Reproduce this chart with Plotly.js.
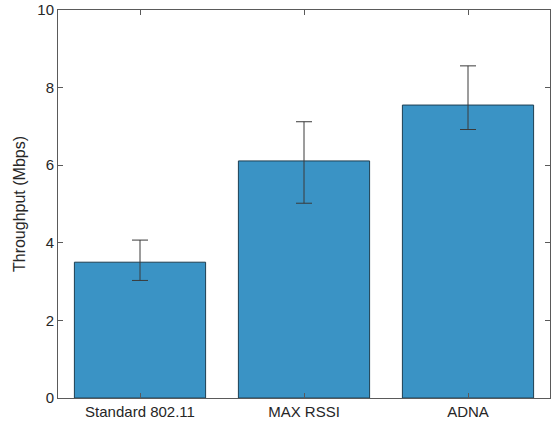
<!DOCTYPE html>
<html>
<head>
<meta charset="utf-8">
<script src="https://cdn.plot.ly/plotly-3.0.1.min.js"></script>
<style>html,body{margin:0;padding:0;background:#fff;}#chart{width:554px;height:424px;}</style>
</head>
<body>
<div id="chart"></div>
<script>
const categories = ["Standard 802.11", "MAX RSSI", "ADNA"];
const throughput = [3.50, 6.11, 7.55];
const errPlus = [0.57, 1.01, 1.01];
const errMinus = [0.47, 1.09, 0.63];
const yTicks = [0, 2, 4, 6, 8, 10];

const trace = {
  type: "bar",
  x: categories,
  y: throughput,
  width: 0.8,
  marker: {color: "#3a93c5", line: {color: "#1d3f52", width: 1}},
  error_y: {type: "data", symmetric: false, array: errPlus, arrayminus: errMinus,
            color: "#3a3a3a", thickness: 1, width: 8},
  hoverinfo: "none"
};

const fontFam = "Liberation Sans, Arial, sans-serif";
const layout = {
  width: 554, height: 424,
  margin: {l: 58, r: 4, t: 10, b: 26},
  paper_bgcolor: "#fff", plot_bgcolor: "#fff",
  showlegend: false,
  font: {family: fontFam, size: 15, color: "#262626"},
  xaxis: {
    type: "category", range: [-0.5, 2.5],
    showline: true, linecolor: "#5a5a5a", linewidth: 1, mirror: "ticks",
    ticks: "inside", ticklen: 5, tickcolor: "#5a5a5a",
    showgrid: false, zeroline: false, fixedrange: true,
    tickfont: {family: fontFam, size: 15, color: "#262626"}
  },
  yaxis: {
    range: [0, 10], tickvals: yTicks, ticktext: yTicks.map(String),
    showline: true, linecolor: "#5a5a5a", linewidth: 1, mirror: "ticks",
    ticks: "inside", ticklen: 5, tickcolor: "#5a5a5a",
    showgrid: false, zeroline: false, fixedrange: true,
    tickfont: {family: fontFam, size: 15, color: "#262626"},
    title: {text: "Throughput (Mbps)", font: {family: fontFam, size: 16, color: "#262626"}, standoff: 7}
  }
};

Plotly.newPlot("chart", [trace], layout, {displayModeBar: false, staticPlot: true});
</script>
</body>
</html>
